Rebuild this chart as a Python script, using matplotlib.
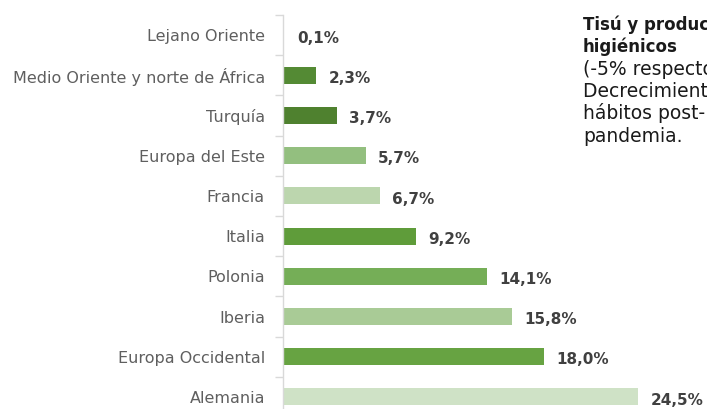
import matplotlib.pyplot as plt
from matplotlib.ticker import FixedLocator

regiones = ["Lejano Oriente", "Medio Oriente y norte de África", "Turquía",
            "Europa del Este", "Francia", "Italia", "Polonia", "Iberia",
            "Europa Occidental", "Alemania"]
cuota = [0.1, 2.3, 3.7, 5.7, 6.7, 9.2, 14.1, 15.8, 18.0, 24.5]
colores = ["#5e9a3c", "#548a34", "#4f812f", "#93bf7f", "#bcd6ae",
           "#5f9c3a", "#75ae57", "#a9cb96", "#67a342", "#cfe2c6"]

nota = ["Tisú y productos", "higiénicos", "(-5% respecto a 2021)",
        "Decrecimiento por", "hábitos post-", "pandemia."]

W, H = 707, 409
fig = plt.figure(figsize=(W / 100, H / 100), dpi=100)
fig.patch.set_facecolor("white")

# axes placed in pixel terms: spine at x=283, rows 40.2 px apart
px_unit = 14.49
ax_left, ax_right = 283, 707
ax_top, ax_bot = 15, 417
ax = fig.add_axes([ax_left / W, 1 - ax_bot / H,
                   (ax_right - ax_left) / W, (ax_bot - ax_top) / H])
ax.set_xlim(0, (ax_right - ax_left) / px_unit)
ax.set_ylim(len(regiones) - 0.5, -0.5)

y = list(range(len(regiones)))
ax.barh(y, cuota, height=0.42, color=colores, zorder=2)

for yi, v in zip(y, cuota):
    ax.text(v + 0.85, yi + 0.08, f"{v:.1f}%".replace(".", ","),
            va="center", ha="left", fontsize=11, fontweight="bold",
            color="#404040")

for s in ["top", "right", "bottom"]:
    ax.spines[s].set_visible(False)
ax.spines["left"].set_color("#d9d9d9")
ax.spines["left"].set_linewidth(1.0)
ax.set_xticks([])

ax.set_yticks(y)
ax.set_yticklabels(regiones, fontsize=11.5, color="#5f5f5f")
ax.tick_params(axis="y", which="major", length=0, pad=13)
ax.yaxis.set_minor_locator(FixedLocator([i - 0.5 for i in range(len(regiones) + 1)]))
ax.tick_params(axis="y", which="minor", length=6, color="#d9d9d9", width=1)

# chart heading, mostly above the top edge
fig.text(53 / W, 1 - 0.5 / H, "GRÁFICO 5", fontsize=14, fontweight="bold",
         color="#a8d67a", va="baseline", ha="left")

# side note, runs off the right edge
for i, linea in enumerate(nota):
    fig.text(583 / W, 1 - (30 + i * 22.3) / H, linea,
             fontsize=12 if i < 2 else 13.5,
             fontweight="bold" if i < 2 else "normal", color="#1a1a1a",
             va="baseline", ha="left")

fig.savefig("out.png", dpi=100)
